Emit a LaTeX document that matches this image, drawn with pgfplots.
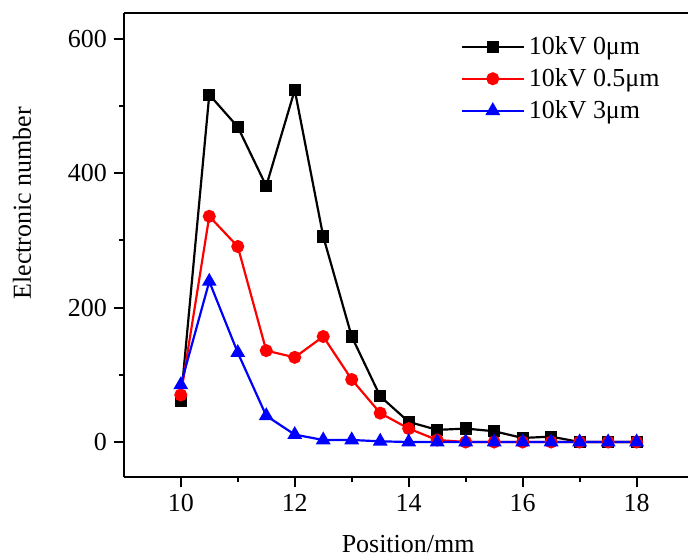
\documentclass[border=0pt]{standalone}
\usepackage{pgfplots}
\pgfplotsset{compat=1.18}
\usepackage{fontspec}
\setmainfont{Liberation Serif}
\newcommand{\chartfont}{\fontsize{13}{15}\selectfont}
\begin{document}
\begin{tikzpicture}
\begin{axis}[
scale only axis,
width=282.5pt,
height=232.5pt,
xmin=9.0, xmax=18.9,
ymin=-52.5, ymax=638.6,
axis x line*=bottom,
axis y line*=left,
axis line style={-, line width=1.1pt},
tick pos=left,
tick align=outside,
xtick={10,12,14,16,18},
ytick={0,200,400,600},
minor x tick num=1,
minor y tick num=1,
major tick length=5pt,
minor tick length=2.5pt,
every tick/.style={black, line width=1pt},
/pgf/number format/assume math mode=true,
tick label style={font=\chartfont},
label style={font=\chartfont},
xlabel={Position/mm},
ylabel={Electronic number},
xlabel style={at={(axis description cs:0.504,-0.144)}, anchor=center},
ylabel style={at={(axis description cs:-0.1805,0.59)}, anchor=center},
legend style={draw=none, fill=none, font=\chartfont, row sep=1.5pt,
  at={(axis description cs:0.586,0.968)}, anchor=north west},
legend cell align=left,
legend image code/.code={
  \draw[mark repeat=2, mark phase=2, #1] plot coordinates {(0pt,0pt) (15.5pt,0pt) (31pt,0pt)};
},
]
\addplot[black, line width=1.1pt, mark=square*, mark size=2.5pt] coordinates {
(10,61) (10.5,517) (11,469) (11.5,381) (12,524) (12.5,306) (13,157) (13.5,68)
(14,30) (14.5,18) (15,20) (15.5,16) (16,6) (16.5,8) (17,0) (17.5,0) (18,0)
};
\addlegendentry{10kV 0μm}
\addplot[red, line width=1.1pt, mark=*, mark size=2.7pt] coordinates {
(10,70) (10.5,336) (11,291) (11.5,136) (12,126) (12.5,157) (13,93) (13.5,43)
(14,20) (14.5,3) (15,0) (15.5,0) (16,0) (16.5,0) (17,0) (17.5,0) (18,0)
};
\addlegendentry{10kV 0.5μm}
\addplot[blue, line width=1.1pt, mark=triangle*, mark size=3.2pt] coordinates {
(10,85) (10.5,239) (11,133) (11.5,39) (12,11) (12.5,3) (13,3) (13.5,1)
(14,0) (14.5,0) (15,0) (15.5,0) (16,0) (16.5,0) (17,0) (17.5,0) (18,0)
};
\addlegendentry{10kV 3μm}
\end{axis}
\draw[line width=1.1pt] (current axis.north west) -- (current axis.north east);
\path ([xshift=-62pt,yshift=-40.5pt]current axis.south west) ([yshift=6.5pt]current axis.north east);
\end{tikzpicture}
\end{document}
